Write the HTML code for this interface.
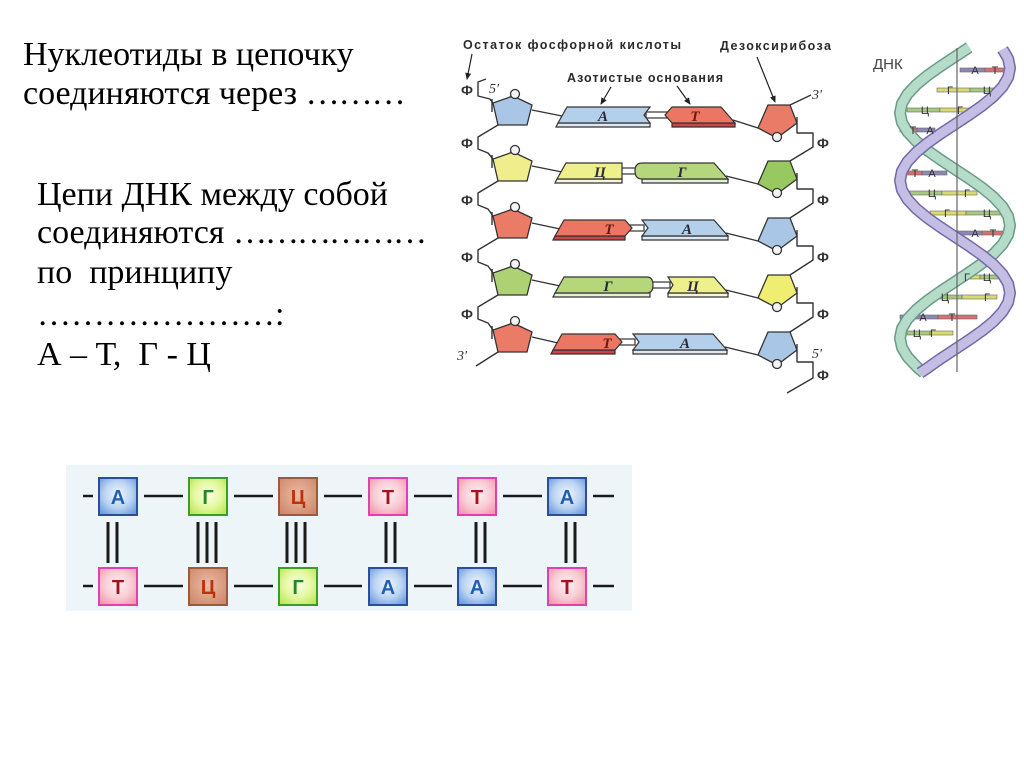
<!DOCTYPE html>
<html><head><meta charset="utf-8"><style>
html,body{margin:0;padding:0;background:#fff;}
body{width:1024px;height:767px;position:relative;overflow:hidden;}
.t{position:absolute;font-family:"Liberation Serif","Noto Serif CJK SC",serif;font-size:34px;line-height:40px;color:#000;white-space:pre;}
svg{position:absolute;left:0;top:0;}
</style></head><body>
<svg width="1024" height="767" viewBox="0 0 1024 767" xmlns="http://www.w3.org/2000/svg">
<defs>
<marker id="ar" markerWidth="8" markerHeight="8" refX="6" refY="4" orient="auto" markerUnits="userSpaceOnUse"><path d="M0,1 L7,4 L0,7 Z" fill="#222"/></marker>
<radialGradient id="gA" cx="50%" cy="45%" r="65%"><stop offset="0" stop-color="#f2f7fd"/><stop offset="0.55" stop-color="#bcd4f2"/><stop offset="1" stop-color="#6c9de0"/></radialGradient>
<radialGradient id="gG" cx="50%" cy="45%" r="65%"><stop offset="0" stop-color="#fbfee6"/><stop offset="0.55" stop-color="#e4f8a0"/><stop offset="1" stop-color="#bce858"/></radialGradient>
<radialGradient id="gC" cx="50%" cy="45%" r="65%"><stop offset="0" stop-color="#eabca6"/><stop offset="1" stop-color="#d0886a"/></radialGradient>
<radialGradient id="gT" cx="50%" cy="45%" r="65%"><stop offset="0" stop-color="#fdf2f4"/><stop offset="0.55" stop-color="#f9cdd6"/><stop offset="1" stop-color="#f29aae"/></radialGradient>
</defs>

<!-- ===== middle diagram ===== -->
<g font-family="Liberation Sans, sans-serif" fill="#2a2a2a" font-weight="bold">
<text x="463" y="49" font-size="12.5" textLength="218" lengthAdjust="spacing">Остаток фосфорной кислоты</text>
<text x="720" y="50" font-size="12.5" textLength="111" lengthAdjust="spacing">Дезоксирибоза</text>
<text x="567" y="82" font-size="12.5" textLength="156" lengthAdjust="spacing">Азотистые основания</text>
</g>
<g stroke="#222" stroke-width="1.2" fill="none">
<line x1="472" y1="54" x2="467" y2="79" marker-end="url(#ar)"/>
<line x1="757" y1="57" x2="775" y2="102" marker-end="url(#ar)"/>
<line x1="611" y1="87" x2="601" y2="104" marker-end="url(#ar)"/>
<line x1="677" y1="86" x2="690" y2="104" marker-end="url(#ar)"/>
</g>

<!-- backbone lines -->
<g stroke="#333" stroke-width="1.4" fill="none" stroke-linejoin="round">
<polyline points="486,79 478,82 478,96 490,99 493,103"/>
<polyline points="498,125 478,137 478,149 488,153 493,159"/>
<polyline points="498,181 478,193 478,205 488,209 493,216"/>
<polyline points="498,238 478,250 478,262 488,266 493,273"/>
<polyline points="498,295 478,307 478,319 488,323 493,330"/>
<line x1="498" y1="352" x2="476" y2="366"/>
<line x1="492" y1="99" x2="492" y2="112"/>
<line x1="492" y1="155" x2="492" y2="168"/>
<line x1="492" y1="212" x2="492" y2="225"/>
<line x1="492" y1="269" x2="492" y2="282"/>
<line x1="492" y1="326" x2="492" y2="339"/>
<line x1="790" y1="105" x2="811" y2="95"/>
<polyline points="797,117 797,133 813,133 813,147 790,161"/>
<polyline points="797,173 797,189 813,189 813,203 790,218"/>
<polyline points="797,230 797,246 813,246 813,260 790,275"/>
<polyline points="797,287 797,303 813,303 813,317 790,332"/>
<polyline points="797,344 797,362 813,362 813,378 787,393"/>
<line x1="532" y1="110" x2="562" y2="116"/><line x1="733" y1="120" x2="758" y2="128"/>
<line x1="532" y1="166" x2="562" y2="172"/><line x1="726" y1="176" x2="758" y2="184"/>
<line x1="532" y1="223" x2="560" y2="229"/><line x1="726" y1="233" x2="758" y2="241"/>
<line x1="532" y1="280" x2="560" y2="286"/><line x1="726" y1="290" x2="758" y2="298"/>
<line x1="532" y1="337" x2="558" y2="343"/><line x1="725" y1="347" x2="758" y2="355"/>
</g>

<g font-family="Liberation Sans, sans-serif" font-size="14" font-weight="bold" fill="#333" text-anchor="middle">
<text x="467" y="95">Ф</text><text x="467" y="148">Ф</text><text x="467" y="205">Ф</text><text x="467" y="262">Ф</text><text x="467" y="319">Ф</text>
<text x="823" y="148">Ф</text><text x="823" y="205">Ф</text><text x="823" y="262">Ф</text><text x="823" y="319">Ф</text><text x="823" y="380">Ф</text>
</g>
<g font-family="Liberation Serif, serif" font-size="14" font-style="italic" fill="#333">
<text x="489" y="93">5′</text><text x="812" y="99">3′</text>
<text x="457" y="360">3′</text><text x="812" y="358">5′</text>
</g>

<g stroke="#333" stroke-width="1.3">
<polygon points="513,96 532,105 527,125 498,125 493,103" fill="#a9c6e6"/>
<polygon points="513,152 532,161 527,181 498,181 493,159" fill="#f0ee8c"/>
<polygon points="513,209 532,218 527,238 498,238 493,216" fill="#ea7b66"/>
<polygon points="513,266 532,275 527,295 498,295 493,273" fill="#acd274"/>
<polygon points="513,323 532,332 527,352 498,352 493,330" fill="#ea7b66"/>
<g fill="#f4f4f4"><circle cx="515" cy="94" r="4.5"/><circle cx="515" cy="150" r="4.5"/><circle cx="515" cy="207" r="4.5"/><circle cx="515" cy="264" r="4.5"/><circle cx="515" cy="321" r="4.5"/></g>
<polygon points="768,105 790,105 797,123 777,138 758,128" fill="#ea7b66"/>
<polygon points="768,161 790,161 797,179 777,194 758,184" fill="#98c860"/>
<polygon points="768,218 790,218 797,236 777,251 758,241" fill="#a9c6e6"/>
<polygon points="768,275 790,275 797,293 777,308 758,298" fill="#f0ee70"/>
<polygon points="768,332 790,332 797,350 777,365 758,355" fill="#a9c6e6"/>
<g fill="#f4f4f4"><circle cx="777" cy="137" r="4.5"/><circle cx="777" cy="193" r="4.5"/><circle cx="777" cy="250" r="4.5"/><circle cx="777" cy="307" r="4.5"/><circle cx="777" cy="364" r="4.5"/></g>
</g>

<g stroke="#333" stroke-width="1.2">
<rect x="646" y="112" width="21" height="6" fill="#fff"/>
<rect x="618" y="168" width="19" height="6" fill="#fff"/>
<rect x="628" y="225" width="16" height="6" fill="#fff"/>
<rect x="650" y="282" width="20" height="6" fill="#fff"/>
<rect x="618" y="339" width="17" height="6" fill="#fff"/>
<polygon points="558,123 650,123 650,127 556,127" fill="#dfe8f2"/>
<polygon points="567,107 650,107 644,115 650,123 558,123" fill="#b4cfea"/>
<polygon points="672,123 735,123 735,127 672,127" fill="#c44"/>
<polygon points="665,115 672,107 721,107 735,123 672,123" fill="#ec7662"/>
<polygon points="557,179 622,179 622,183 555,183" fill="#f6f6dc"/>
<polygon points="566,163 622,163 622,179 557,179" fill="#eef08c"/>
<polygon points="642,179 728,179 728,183 642,183" fill="#e6f0d8"/>
<path d="M642,163 L714,163 L728,179 L642,179 Q635,179 635,171 Q635,163 642,163 Z" fill="#b6d67c"/>
<polygon points="555,236 625,236 625,240 553,240" fill="#c44"/>
<polygon points="564,220 625,220 632,228 625,236 555,236" fill="#ec7662"/>
<polygon points="642,236 728,236 728,240 642,240" fill="#dfe8f2"/>
<polygon points="642,220 714,220 728,236 642,236 648,228" fill="#b4cfea"/>
<polygon points="555,293 650,293 650,297 553,297" fill="#e6f0d8"/>
<path d="M564,277 L647,277 Q653,277 653,285 Q653,293 647,293 L555,293 Z" fill="#b6d67c"/>
<polygon points="668,293 728,293 728,297 668,297" fill="#f6f6dc"/>
<polygon points="668,277 714,277 728,293 668,293 673,285" fill="#eef08c"/>
<polygon points="553,350 615,350 615,354 551,354" fill="#c44"/>
<polygon points="562,334 615,334 622,342 615,350 553,350" fill="#ec7662"/>
<polygon points="633,350 727,350 727,354 633,354" fill="#dfe8f2"/>
<polygon points="633,334 713,334 727,350 633,350 639,342" fill="#b4cfea"/>
</g>
<g font-family="Liberation Serif, serif" font-size="15" font-style="italic" font-weight="bold" fill="#2a2a3a" text-anchor="middle">
<text x="603" y="121">А</text><text x="695" y="121" fill="#6a1a10">Т</text>
<text x="600" y="177">Ц</text><text x="682" y="177">Г</text>
<text x="609" y="234" fill="#6a1a10">Т</text><text x="687" y="234">А</text>
<text x="608" y="291">Г</text><text x="693" y="291">Ц</text>
<text x="607" y="348" fill="#6a1a10">Т</text><text x="685" y="348">А</text>
</g>

<!-- ===== helix ===== -->
<text x="873" y="69" font-family="Liberation Sans, sans-serif" font-size="15" fill="#444">ДНК</text>
<g stroke="#666" stroke-width="0.6">
<rect x="960" y="68" width="25" height="4" fill="#8c88b4"/><rect x="985" y="68" width="25" height="4" fill="#d87070"/>
<rect x="937" y="88" width="33" height="4" fill="#d8dc70"/><rect x="970" y="88" width="33" height="4" fill="#a8c880"/>
<rect x="907" y="108" width="33" height="4" fill="#a8c880"/><rect x="940" y="108" width="33" height="4" fill="#d8dc70"/>
<rect x="900" y="128" width="17" height="4" fill="#d87070"/><rect x="917" y="128" width="18" height="4" fill="#8c88b4"/>
<rect x="897" y="171" width="25" height="4" fill="#d87070"/><rect x="922" y="171" width="25" height="4" fill="#8c88b4"/>
<rect x="907" y="191" width="35" height="4" fill="#a8c880"/><rect x="942" y="191" width="35" height="4" fill="#d8dc70"/>
<rect x="930" y="211" width="36" height="4" fill="#d8dc70"/><rect x="966" y="211" width="37" height="4" fill="#a8c880"/>
<rect x="957" y="231" width="25" height="4" fill="#8c88b4"/><rect x="982" y="231" width="25" height="4" fill="#d87070"/>
<rect x="957" y="275" width="23" height="4" fill="#d8dc70"/><rect x="980" y="275" width="23" height="4" fill="#a8c880"/>
<rect x="927" y="295" width="35" height="4" fill="#a8c880"/><rect x="962" y="295" width="35" height="4" fill="#d8dc70"/>
<rect x="900" y="315" width="38" height="4" fill="#8c88b4"/><rect x="938" y="315" width="39" height="4" fill="#d87070"/>
<rect x="907" y="331" width="23" height="4" fill="#a8c880"/><rect x="930" y="331" width="23" height="4" fill="#d8dc70"/>
</g>
<g fill="none" stroke-linejoin="round" stroke-linecap="butt">
<polyline stroke="#6a9a88" stroke-width="12" points="969.2,47.4 955,56.75 940.8,66.1 927.5,75.5 916.1,84.9 907.4,94.25 901.9,103.6 900,113 901.9,122.4 907.4,131.75 916.1,141.1 927.5,150.5 940.8,159.9 955,169.25 969.2,178.6 982.5,188 993.9,197.4 1002.6,206.75 1008.1,216.1 1010,225.5 1008.1,234.9 1002.6,244.25 993.9,253.6 982.5,263 969.2,272.4 955,281.75 940.8,291.1 927.5,300.5 916.1,309.9 907.4,319.25 901.9,328.6 900,338 901.9,347.4 907.4,356.75 916.1,366.1 924,373"/>
<polyline stroke="#b4dcc8" stroke-width="9" points="969.2,47.4 955,56.75 940.8,66.1 927.5,75.5 916.1,84.9 907.4,94.25 901.9,103.6 900,113 901.9,122.4 907.4,131.75 916.1,141.1 927.5,150.5 940.8,159.9 955,169.25 969.2,178.6 982.5,188 993.9,197.4 1002.6,206.75 1008.1,216.1 1010,225.5 1008.1,234.9 1002.6,244.25 993.9,253.6 982.5,263 969.2,272.4 955,281.75 940.8,291.1 927.5,300.5 916.1,309.9 907.4,319.25 901.9,328.6 900,338 901.9,347.4 907.4,356.75 916.1,366.1 924,373"/>
<polyline stroke="#7468a8" stroke-width="12" points="1002.6,49.25 1008.1,58.6 1010,68 1008.1,77.4 1002.6,86.75 993.9,96.1 982.5,105.5 969.2,114.9 955,124.25 940.8,133.6 927.5,143 916.1,152.4 907.4,161.75 901.9,171.1 900,180.5 901.9,189.9 907.4,199.25 916.1,208.6 927.5,218 940.8,227.4 955,236.75 969.2,246.1 982.5,255.5 993.9,264.9 1002.6,274.25 1008.1,283.6 1010,293 1008.1,302.4 1002.6,311.75 993.9,321.1 982.5,330.5 969.2,339.9 955,349.25 940.8,358.6 927.5,368 920,373"/>
<polyline stroke="#c4bee4" stroke-width="9" points="1002.6,49.25 1008.1,58.6 1010,68 1008.1,77.4 1002.6,86.75 993.9,96.1 982.5,105.5 969.2,114.9 955,124.25 940.8,133.6 927.5,143 916.1,152.4 907.4,161.75 901.9,171.1 900,180.5 901.9,189.9 907.4,199.25 916.1,208.6 927.5,218 940.8,227.4 955,236.75 969.2,246.1 982.5,255.5 993.9,264.9 1002.6,274.25 1008.1,283.6 1010,293 1008.1,302.4 1002.6,311.75 993.9,321.1 982.5,330.5 969.2,339.9 955,349.25 940.8,358.6 927.5,368 920,373"/>
</g>
<line x1="957" y1="48" x2="957" y2="372" stroke="#666" stroke-width="1.2"/>
<g font-family="Liberation Sans, sans-serif" font-size="11" fill="#333" text-anchor="middle">
<text x="975" y="74">А</text><text x="995" y="74">Т</text>
<text x="950" y="94">Г</text><text x="987" y="94">Ц</text>
<text x="925" y="114">Ц</text><text x="960" y="114">Г</text>
<text x="913" y="134">Т</text><text x="930" y="134">А</text>
<text x="915" y="177">Т</text><text x="932" y="177">А</text>
<text x="932" y="197">Ц</text><text x="967" y="197">Г</text>
<text x="947" y="217">Г</text><text x="987" y="217">Ц</text>
<text x="975" y="237">А</text><text x="993" y="237">Т</text>
<text x="967" y="281">Г</text><text x="987" y="281">Ц</text>
<text x="945" y="301">Ц</text><text x="987" y="301">Г</text>
<text x="923" y="321">А</text><text x="952" y="321">Т</text>
<text x="917" y="337">Ц</text><text x="933" y="337">Г</text>
</g>

<!-- ===== bottom scheme ===== -->
<rect x="66" y="465" width="566" height="146" fill="#eef5f9"/>
<g stroke="#1a1a1a" stroke-width="2.5">
<line x1="83" y1="496" x2="93" y2="496"/><line x1="144" y1="496" x2="183" y2="496"/><line x1="234" y1="496" x2="273" y2="496"/><line x1="324" y1="496" x2="362" y2="496"/><line x1="414" y1="496" x2="452" y2="496"/><line x1="503" y1="496" x2="542" y2="496"/><line x1="593" y1="496" x2="614" y2="496"/>
<line x1="83" y1="586" x2="93" y2="586"/><line x1="144" y1="586" x2="183" y2="586"/><line x1="234" y1="586" x2="273" y2="586"/><line x1="324" y1="586" x2="362" y2="586"/><line x1="414" y1="586" x2="452" y2="586"/><line x1="503" y1="586" x2="542" y2="586"/><line x1="593" y1="586" x2="614" y2="586"/>
</g>
<g stroke="#1a1a1a" stroke-width="3">
<line x1="108" y1="522" x2="108" y2="563"/><line x1="117" y1="522" x2="117" y2="563"/>
<line x1="198" y1="522" x2="198" y2="563"/><line x1="207" y1="522" x2="207" y2="563"/><line x1="216" y1="522" x2="216" y2="563"/>
<line x1="287" y1="522" x2="287" y2="563"/><line x1="296" y1="522" x2="296" y2="563"/><line x1="305" y1="522" x2="305" y2="563"/>
<line x1="386" y1="522" x2="386" y2="563"/><line x1="395" y1="522" x2="395" y2="563"/>
<line x1="476" y1="522" x2="476" y2="563"/><line x1="485" y1="522" x2="485" y2="563"/>
<line x1="566" y1="522" x2="566" y2="563"/><line x1="575" y1="522" x2="575" y2="563"/>
</g>
<g stroke-width="2">
<rect x="99" y="478" width="38" height="37" fill="url(#gA)" stroke="#2c4c9c"/>
<rect x="189" y="478" width="38" height="37" fill="url(#gG)" stroke="#3c9c28"/>
<rect x="279" y="478" width="38" height="37" fill="url(#gC)" stroke="#9c5a3c"/>
<rect x="369" y="478" width="38" height="37" fill="url(#gT)" stroke="#e040b0"/>
<rect x="458" y="478" width="38" height="37" fill="url(#gT)" stroke="#e040b0"/>
<rect x="548" y="478" width="38" height="37" fill="url(#gA)" stroke="#2c4c9c"/>
<rect x="99" y="568" width="38" height="37" fill="url(#gT)" stroke="#e040b0"/>
<rect x="189" y="568" width="38" height="37" fill="url(#gC)" stroke="#9c5a3c"/>
<rect x="279" y="568" width="38" height="37" fill="url(#gG)" stroke="#3c9c28"/>
<rect x="369" y="568" width="38" height="37" fill="url(#gA)" stroke="#2c4c9c"/>
<rect x="458" y="568" width="38" height="37" fill="url(#gA)" stroke="#2c4c9c"/>
<rect x="548" y="568" width="38" height="37" fill="url(#gT)" stroke="#e040b0"/>
</g>
<g font-family="Liberation Sans, sans-serif" font-size="20" font-weight="bold" text-anchor="middle">
<text x="118" y="504" fill="#1f5fb5">А</text>
<text x="208" y="504" fill="#1f8a1f">Г</text>
<text x="298" y="504" fill="#c0300c">Ц</text>
<text x="388" y="504" fill="#a8101c">Т</text>
<text x="477" y="504" fill="#a8101c">Т</text>
<text x="567" y="504" fill="#1f5fb5">А</text>
<text x="118" y="594" fill="#a8101c">Т</text>
<text x="208" y="594" fill="#c0300c">Ц</text>
<text x="298" y="594" fill="#1f8a1f">Г</text>
<text x="388" y="594" fill="#1f5fb5">А</text>
<text x="477" y="594" fill="#1f5fb5">А</text>
<text x="567" y="594" fill="#a8101c">Т</text>
</g>
</svg>

<div class="t" style="left:23px;top:35px;line-height:39px;">Нуклеотиды в цепочку</div>
<div class="t" style="left:23px;top:74px;line-height:39px;">соединяются через <span style="letter-spacing:-1px">………</span></div>
<div class="t" style="left:37px;top:175px;">Цепи ДНК между собой</div>
<div class="t" style="left:37px;top:213px;">соединяются <span style="letter-spacing:-2px">………………</span></div>
<div class="t" style="left:37px;top:253px;">по  принципу</div>
<div class="t" style="left:37px;top:295px;">…………………:</div>
<div class="t" style="left:37px;top:335px;">А – Т,  Г - Ц</div>
</body></html>
